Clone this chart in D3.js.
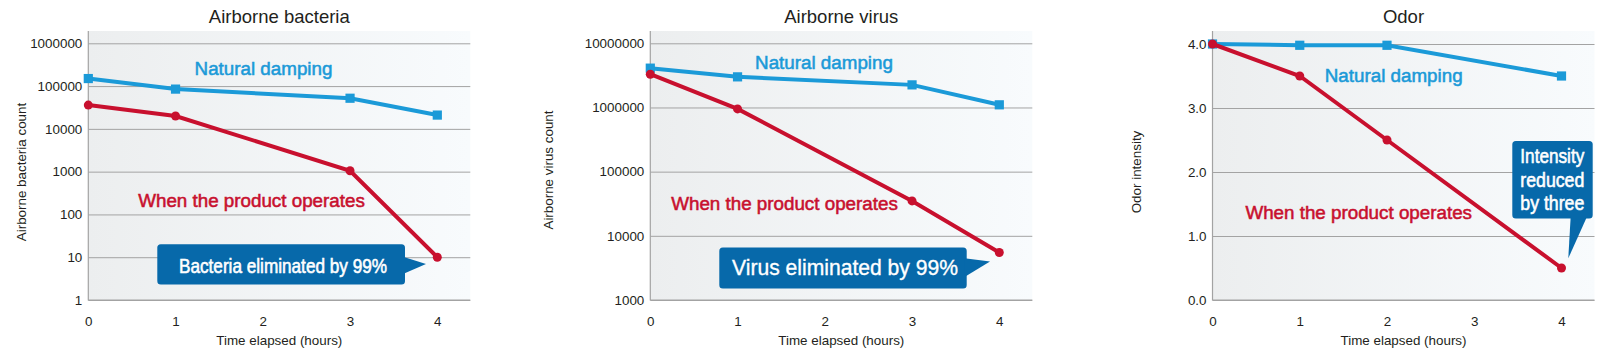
<!DOCTYPE html>
<html>
<head>
  <meta charset="utf-8">
  <title>Airborne bacteria, virus and odor</title>
  <style>
    body { margin: 0; background: #fff; }
    svg { display: block; font-family: "Liberation Sans", Arial, sans-serif; }
    .grid line { stroke: #a3a3a3; stroke-width: 1; }
    .grid text { font-size: 13.4px; fill: #231f20; }
    .xaxis text { font-size: 13.4px; fill: #231f20; }
    .frame { stroke: #a3a3a3; stroke-width: 1.2; fill: none; }
    .title { font-size: 18.5px; fill: #231f20; text-anchor: middle; }
    .axis-title { font-size: 13.4px; fill: #231f20; text-anchor: middle; }
    /* medium weight: regular glyphs with a thin outline */
    .series-label { font-size: 18.8px; text-anchor: middle; stroke-width: 0.55px; }
    .callout text { fill: #fff; stroke: #fff; text-anchor: middle; }
  </style>
  <script src="https://d3js.org/d3.v7.min.js"></script>
</head>
<body>
  <div id="chart"></div>

  <script>
    // values
    const hourTicks = [0, 1, 2, 3, 4];

    const bacteriaHours = [0, 1, 3, 4];
    const bacteriaNatural = [150000, 85000, 52000, 21000];
    const bacteriaProduct = [36000, 20000, 1050, 10];
    const bacteriaTicks = [1, 10, 100, 1000, 10000, 100000, 1000000];

    const virusHours = [0, 1, 3, 4];
    const virusNatural = [4100000, 3000000, 2250000, 1100000];
    const virusProduct = [3300000, 950000, 35000, 5500];
    const virusTicks = [1000, 10000, 100000, 1000000, 10000000];

    const odorHours = [0, 1, 2, 4];
    const odorNatural = [4.0, 3.98, 3.98, 3.5];
    const odorProduct = [4.0, 3.5, 2.5, 0.5];
    const odorTicks = [0, 1, 2, 3, 4];

    const seriesNames = ['Natural damping', 'When the product operates'];
    const xTitle = 'Time elapsed (hours)';

    const blue = '#1b9ad8', red = '#c8102e', calloutFill = '#0769aa';

    const width = 1605, height = 351;
    const plotW = 382, xSpan = 349, bgTop = 31, bottom = 300;

    const panels = [
      {
        title: 'Airborne bacteria', yTitle: 'Airborne bacteria count',
        hours: bacteriaHours, natural: bacteriaNatural, product: bacteriaProduct,
        ticks: bacteriaTicks, log: true, format: d3.format('d'),
        left: 88.3, yTop: 43.3, yTitleX: 21, yTitleY: 172,
        naturalLabel: [263.5, 75.3], productLabel: [251.5, 207.3],
        callout: {
          lines: ['Bacteria eliminated by 99%'], narrow: true, size: 21, maxWidth: 208, weight: 0.6,
          box: [157.3, 244.3, 247.7, 40.3], text: [283, 272.7], lineH: 0,
          pointer: [[403, 256.7], [426, 264], [403, 274]]
        }
      },
      {
        title: 'Airborne virus', yTitle: 'Airborne virus count',
        hours: virusHours, natural: virusNatural, product: virusProduct,
        ticks: virusTicks, log: true, format: d3.format('d'),
        left: 650.3, yTop: 43.3, yTitleX: 548.3, yTitleY: 170,
        naturalLabel: [824, 69], productLabel: [784.5, 209.5],
        callout: {
          lines: ['Virus eliminated by 99%'], narrow: false, size: 21.5, maxWidth: 226, weight: 0.35,
          box: [719.3, 247.5, 247.4, 41], text: [845, 275.3], lineH: 0,
          pointer: [[964.5, 258.3], [990, 261.5], [964.5, 277]]
        }
      },
      {
        title: 'Odor', yTitle: 'Odor intensity',
        hours: odorHours, natural: odorNatural, product: odorProduct,
        ticks: odorTicks, log: false, format: d3.format('.1f'),
        left: 1212.5, yTop: 44, yTitleX: 1136.7, yTitleY: 172,
        naturalLabel: [1393.7, 81.7], productLabel: [1358.7, 219],
        callout: {
          lines: ['Intensity', 'reduced', 'by three'], narrow: true, size: 21, maxWidth: 64, weight: 0.6,
          box: [1512.3, 141, 80.4, 77.5], text: [1552.3, 163.3], lineH: 23.2,
          pointer: [[1570.7, 216], [1568.3, 258.3], [1587.3, 216]]
        }
      }
    ];

    const svg = d3.select('#chart')
      .append('svg')
        .attr('width', width)
        .attr('height', height);

    const grad = svg.append('defs')
      .append('linearGradient')
        .attr('id', 'bg')
        .attr('x1', 0).attr('x2', 1).attr('y1', 0).attr('y2', 0);
    grad.append('stop').attr('offset', 0).attr('stop-color', '#eceeef');
    grad.append('stop').attr('offset', 1).attr('stop-color', '#f8fbfd');

    panels.forEach(drawPanel);

    function drawPanel(p) {
      const x = d3.scaleLinear()
        .domain([0, 4])
        .range([p.left, p.left + xSpan]);

      const y = (p.log ? d3.scaleLog() : d3.scaleLinear())
        .domain(d3.extent(p.ticks))
        .range([bottom, p.yTop]);

      const g = svg.append('g');

      g.append('rect')
        .attr('x', p.left)
        .attr('y', bgTop)
        .attr('width', plotW)
        .attr('height', bottom - bgTop)
        .attr('fill', 'url(#bg)');

      // gridlines and y tick labels
      g.append('g')
        .attr('class', 'grid')
        .attr('transform', `translate(${p.left}, 0)`)
        .call(d3.axisLeft(y)
          .tickValues(p.ticks)
          .tickFormat(p.format)
          .tickSize(-plotW)
          .tickPadding(6))
        .call(a => a.select('.domain').remove());

      g.append('g')
        .attr('class', 'xaxis')
        .attr('transform', `translate(0, ${bottom})`)
        .call(d3.axisBottom(x)
          .tickValues(hourTicks)
          .tickFormat(d3.format('d'))
          .tickSize(0)
          .tickPadding(16.3))
        .call(a => a.select('.domain').remove());

      // left axis and bottom line
      g.append('path')
        .attr('class', 'frame')
        .attr('d', `M${p.left},${bgTop}V${bottom}H${p.left + plotW}`);

      g.append('text')
        .attr('class', 'title')
        .attr('x', p.left + plotW / 2)
        .attr('y', 22.7)
        .text(p.title);

      g.append('text')
        .attr('class', 'axis-title')
        .attr('x', p.left + plotW / 2)
        .attr('y', 345)
        .text(xTitle);

      g.append('text')
        .attr('class', 'axis-title')
        .attr('transform', `translate(${p.yTitleX}, ${p.yTitleY}) rotate(-90)`)
        .attr('dy', '0.35em')
        .text(p.yTitle);

      const line = d3.line()
        .x(d => x(d[0]))
        .y(d => y(d[1]));

      const natural = p.hours.map((h, i) => [h, p.natural[i]]);
      const product = p.hours.map((h, i) => [h, p.product[i]]);

      g.append('path')
        .datum(natural)
        .attr('fill', 'none')
        .attr('stroke', blue)
        .attr('stroke-width', 4)
        .attr('d', line);

      g.selectAll('.sq')
        .data(natural)
        .enter()
          .append('rect')
          .attr('x', d => x(d[0]) - 4.6)
          .attr('y', d => y(d[1]) - 4.6)
          .attr('width', 9.2)
          .attr('height', 9.2)
          .attr('fill', blue);

      g.append('path')
        .datum(product)
        .attr('fill', 'none')
        .attr('stroke', red)
        .attr('stroke-width', 4)
        .attr('d', line);

      g.selectAll('.dot')
        .data(product)
        .enter()
          .append('circle')
          .attr('cx', d => x(d[0]))
          .attr('cy', d => y(d[1]))
          .attr('r', 4.5)
          .attr('fill', red);

      g.append('text')
        .attr('class', 'series-label')
        .attr('x', p.naturalLabel[0])
        .attr('y', p.naturalLabel[1])
        .attr('fill', blue)
        .attr('stroke', blue)
        .text(seriesNames[0]);

      g.append('text')
        .attr('class', 'series-label')
        .attr('x', p.productLabel[0])
        .attr('y', p.productLabel[1])
        .attr('fill', red)
        .attr('stroke', red)
        .text(seriesNames[1]);

      // callout
      const c = p.callout;
      const cg = g.append('g').attr('class', 'callout');
      cg.append('rect')
        .attr('x', c.box[0])
        .attr('y', c.box[1])
        .attr('width', c.box[2])
        .attr('height', c.box[3])
        .attr('rx', 3.5)
        .attr('fill', calloutFill);
      cg.append('path')
        .attr('d', d3.line()(c.pointer) + 'Z')
        .attr('fill', calloutFill);

      c.lines.forEach((t, i) => {
        const txt = cg.append('text')
          .attr('x', c.text[0])
          .attr('y', c.text[1] + i * c.lineH)
          .style('font-family', c.narrow
            ? '"Liberation Sans Narrow", "Arial Narrow", "Liberation Sans", sans-serif'
            : '"Liberation Sans", Arial, sans-serif')
          .style('font-size', c.size + 'px')
          .style('stroke-width', c.weight + 'px')
          .text(t);
        if (txt.node().getComputedTextLength() > c.maxWidth) {
          txt.attr('textLength', c.maxWidth).attr('lengthAdjust', 'spacingAndGlyphs');
        }
      });
    }
  </script>
</body>
</html>
